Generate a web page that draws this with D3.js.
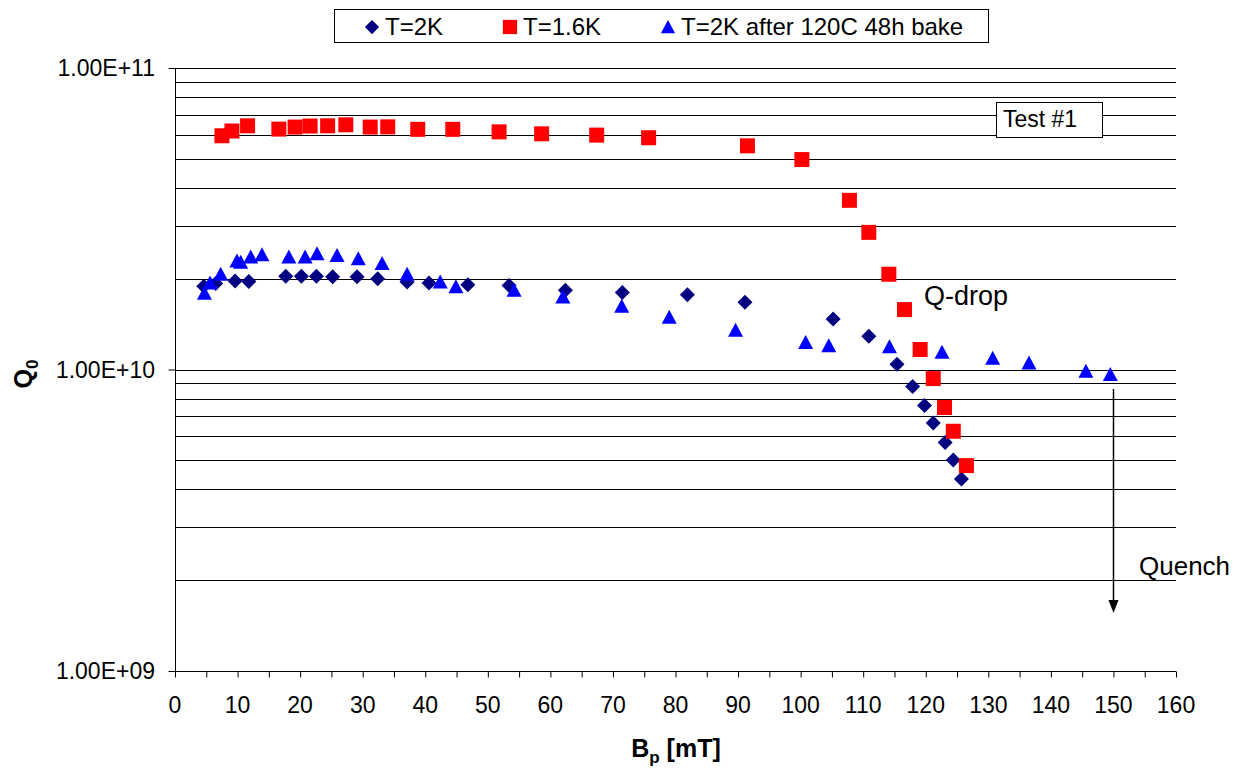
<!DOCTYPE html>
<html>
<head>
<meta charset="utf-8">
<script src="https://cdn.jsdelivr.net/npm/d3@7"></script>
<style>
body { margin: 0; background: #fff; }
text { font-family: "Liberation Sans", Arial, sans-serif; fill: #000; }
</style>
</head>
<body>
<div id="canvas"></div>
<script>
// ----------------------------------------------------------
// DATA -----------------------------------------------------
// ----------------------------------------------------------
// T=2K
var bp_2K = [4.6, 6.5, 9.6, 11.8, 17.7, 20.2, 22.6, 25.2, 29.1, 32.4, 37.1, 40.6, 46.8, 53.4,
  62.4, 71.5, 81.9, 91.1, 105.2, 110.9, 115.4, 117.9, 119.8, 121.2, 123.1, 124.4, 125.7];
var q0_2K = [1.89e10, 1.93e10, 1.965e10, 1.96e10, 2.04e10, 2.04e10, 2.04e10, 2.03e10, 2.03e10, 2.00e10,
  1.95e10, 1.935e10, 1.91e10, 1.90e10, 1.83e10, 1.80e10, 1.77e10, 1.67e10, 1.47e10, 1.29e10,
  1.04e10, 8.78e9, 7.59e9, 6.65e9, 5.73e9, 5.01e9, 4.33e9];

// T=1.6K
var bp_16K = [7.5, 9.1, 11.6, 16.6, 19.2, 21.6, 24.4, 27.3, 31.2, 34.0, 38.8, 44.4, 51.8, 58.6,
  67.4, 75.7, 91.5, 100.2, 107.8, 110.9, 114.1, 116.6, 119.1, 121.2, 123.0, 124.4, 126.5];
var q0_16K = [5.96e10, 6.18e10, 6.43e10, 6.27e10, 6.37e10, 6.42e10, 6.43e10, 6.48e10, 6.37e10, 6.38e10,
  6.26e10, 6.26e10, 6.14e10, 6.05e10, 5.99e10, 5.87e10, 5.52e10, 4.97e10, 3.64e10, 2.85e10,
  2.07e10, 1.58e10, 1.165e10, 9.33e9, 7.48e9, 6.24e9, 4.80e9];

// T=2K after 120C 48h bake
var bp_bake = [4.7, 5.6, 7.3, 9.9, 10.5, 12.1, 13.9, 18.2, 20.8, 22.7, 25.9, 29.3, 33.1, 37.1,
  42.4, 44.9, 54.2, 62.0, 71.4, 79.0, 89.6, 100.8, 104.5, 114.2, 122.6, 130.7, 136.5, 145.6, 149.5];
var q0_bake = [1.79e10, 1.935e10, 2.07e10, 2.29e10, 2.27e10, 2.36e10, 2.40e10, 2.36e10, 2.36e10, 2.42e10,
  2.39e10, 2.33e10, 2.245e10, 2.07e10, 1.95e10, 1.88e10, 1.83e10, 1.74e10, 1.62e10, 1.49e10,
  1.35e10, 1.23e10, 1.20e10, 1.19e10, 1.14e10, 1.09e10, 1.05e10, 9.87e9, 9.62e9];

var series_names = ["T=2K", "T=1.6K", "T=2K after 120C 48h bake"];
var x_ticks = d3.range(0, 161, 10);
var x_minor = d3.range(0, 161, 5);
var y_ticks = [1e9, 1e10, 1e11];

// ----------------------------------------------------------
// STRUCTURE ------------------------------------------------
// ----------------------------------------------------------
var svg = d3.select("#canvas").append("svg")
  .attr("width", 1248)
  .attr("height", 770);

var x = d3.scaleLinear().domain([0, 160]).range([175, 1176]);
var y = d3.scaleLog().domain([1e9, 1e11]).range([671, 68]);

// minor grid values 1..9 per decade
var grid_values = [];
[1e9, 1e10].forEach(function(dec) {
  for (var k = 1; k <= 10; k++) grid_values.push(dec * k);
});
grid_values = grid_values.filter(function(v, i, a) { return a.indexOf(v) === i && v > 1e9; });

// ----------------------------------------------------------
// GRID & AXES ----------------------------------------------
// ----------------------------------------------------------
svg.append("g").selectAll("line")
  .data(grid_values)
  .enter().append("line")
  .attr("x1", 175).attr("x2", 1176)
  .attr("y1", function(d) { return Math.round(y(d)) + 0.5; })
  .attr("y2", function(d) { return Math.round(y(d)) + 0.5; })
  .style("stroke", "#000")
  .style("stroke-width", 1);

var x_axis = svg.append("g")
  .attr("transform", "translate(0,671.5)")
  .call(d3.axisBottom(x).tickValues(x_minor).tickSize(6).tickFormat(""));
x_axis.select(".domain").attr("d", "M175,0H1176");

svg.append("g").selectAll("text")
  .data(x_ticks)
  .enter().append("text")
  .attr("x", function(d) { return x(d); })
  .attr("y", 713)
  .attr("text-anchor", "middle")
  .style("font-size", "23px")
  .text(function(d) { return d; });

var y_axis = svg.append("g")
  .attr("transform", "translate(175.5,0)")
  .call(d3.axisLeft(y).tickValues(y_ticks).tickSize(7).tickFormat(""));
y_axis.select(".domain").attr("d", "M0,68V671.5");

var fmt_exp = function(v) {
  var e = Math.round(Math.log10(v));
  return "1.00E+" + (e < 10 ? "0" + e : e);
};
svg.append("g").selectAll("text")
  .data(y_ticks)
  .enter().append("text")
  .attr("x", 155)
  .attr("y", function(d) { return y(d) + 8; })
  .attr("text-anchor", "end")
  .style("font-size", "23px")
  .text(fmt_exp);

// axis titles
var x_title = svg.append("text")
  .attr("x", 676)
  .attr("y", 757)
  .attr("text-anchor", "middle")
  .style("font-size", "25px")
  .style("font-weight", "bold");
x_title.append("tspan").text("B");
x_title.append("tspan").attr("dy", 6).style("font-size", "17px").text("p");
x_title.append("tspan").attr("dy", -6).text(" [mT]");

var y_title = svg.append("text")
  .attr("transform", "translate(32,374) rotate(-90)")
  .attr("text-anchor", "middle")
  .style("font-size", "25px")
  .style("font-weight", "bold");
y_title.append("tspan").text("Q");
y_title.append("tspan").attr("dy", 6).style("font-size", "17px").text("0");

// ----------------------------------------------------------
// MARKERS --------------------------------------------------
// ----------------------------------------------------------
var diamond_path = "M0,-7.5L7.5,0L0,7.5L-7.5,0Z";
var square_path = "M-7.5,-7.5H7.5V7.5H-7.5Z";
var triangle_path = "M0,-7.5L7.5,6.5H-7.5Z";

function draw_series(xs, ys, path, color) {
  svg.append("g").selectAll("path")
    .data(d3.zip(xs, ys))
    .enter().append("path")
    .attr("d", path)
    .attr("transform", function(d) { return "translate(" + x(d[0]) + "," + y(d[1]) + ")"; })
    .style("fill", color);
}
draw_series(bp_2K, q0_2K, diamond_path, "#000080");
draw_series(bp_16K, q0_16K, square_path, "#ff0000");
draw_series(bp_bake, q0_bake, triangle_path, "#0000ff");

// ----------------------------------------------------------
// LEGEND ---------------------------------------------------
// ----------------------------------------------------------
var legend = svg.append("g");
legend.append("rect")
  .attr("x", 334.5).attr("y", 9.5)
  .attr("width", 654).attr("height", 33)
  .style("fill", "#fff").style("stroke", "#000");

var legend_items = [
  { path: diamond_path, color: "#000080", mx: 372, tx: 385 },
  { path: square_path, color: "#ff0000", mx: 510, tx: 523 },
  { path: triangle_path, color: "#0000ff", mx: 668, tx: 681 }
];
legend_items.forEach(function(it, i) {
  legend.append("path")
    .attr("d", it.path)
    .attr("transform", "translate(" + it.mx + ",27) scale(0.95)")
    .style("fill", it.color);
  legend.append("text")
    .attr("x", it.tx).attr("y", 35)
    .style("font-size", "24px")
    .text(series_names[i]);
});

// ----------------------------------------------------------
// ANNOTATIONS ----------------------------------------------
// ----------------------------------------------------------
svg.append("rect")
  .attr("x", 996.5).attr("y", 102.5)
  .attr("width", 106).attr("height", 35)
  .style("fill", "#fff").style("stroke", "#000");
svg.append("text")
  .attr("x", 1003).attr("y", 127)
  .style("font-size", "23px")
  .text("Test #1");

svg.append("text")
  .attr("x", 924).attr("y", 305)
  .style("font-size", "27px")
  .text("Q-drop");

svg.append("text")
  .attr("x", 1139).attr("y", 575)
  .style("font-size", "26px")
  .text("Quench");

// quench arrow
var arrow_x = Math.round(x(150)) + 0.5;
svg.append("line")
  .attr("x1", arrow_x).attr("x2", arrow_x)
  .attr("y1", 389).attr("y2", 602)
  .style("stroke", "#000").style("stroke-width", 1.5);
svg.append("path")
  .attr("d", "M" + (arrow_x - 5) + ",600L" + (arrow_x + 5) + ",600L" + arrow_x + ",613Z")
  .style("fill", "#000");
</script>
</body>
</html>
